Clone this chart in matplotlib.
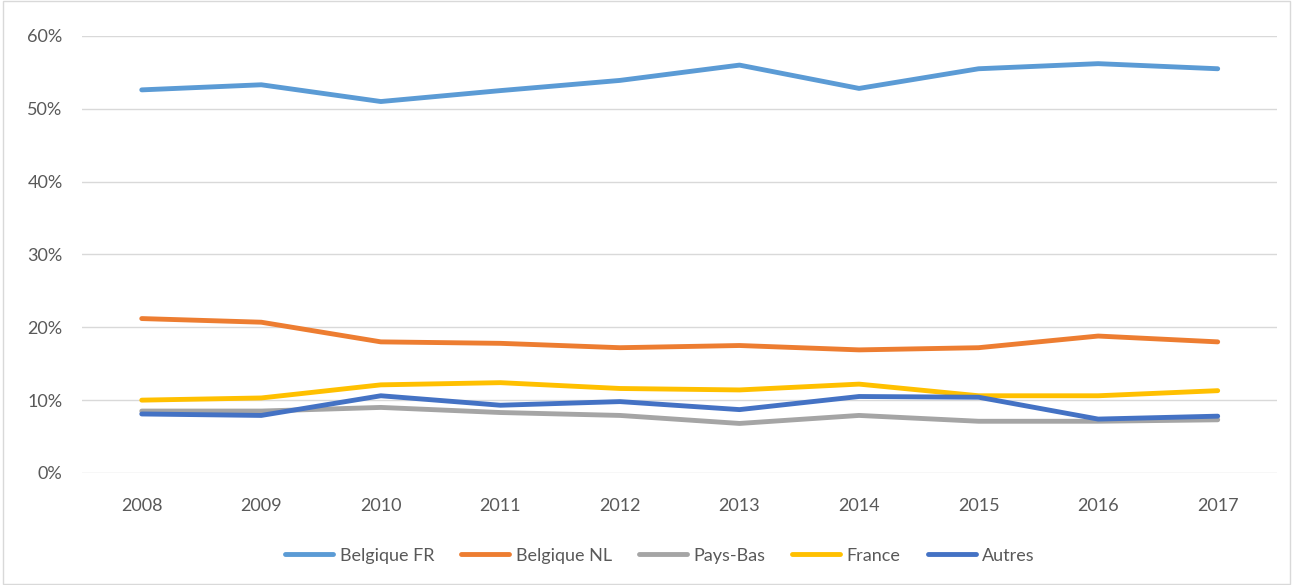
import matplotlib.pyplot as plt
from matplotlib.ticker import PercentFormatter
from matplotlib.patches import Rectangle

years = ['2008', '2009', '2010', '2011', '2012', '2013', '2014', '2015', '2016', '2017']

belgique_fr = [52.6, 53.3, 51.0, 52.5, 53.9, 56.0, 52.8, 55.5, 56.2, 55.5]
belgique_nl = [21.2, 20.7, 18.0, 17.8, 17.2, 17.5, 16.9, 17.2, 18.8, 18.0]
pays_bas = [8.5, 8.5, 9.0, 8.3, 7.9, 6.8, 7.9, 7.1, 7.1, 7.3]
france = [10.0, 10.3, 12.1, 12.4, 11.6, 11.4, 12.2, 10.6, 10.6, 11.3]
autres = [8.1, 7.9, 10.6, 9.3, 9.8, 8.7, 10.5, 10.4, 7.4, 7.8]

series = [
    ('Belgique FR', belgique_fr, '#5B9BD5'),
    ('Belgique NL', belgique_nl, '#ED7D31'),
    ('Pays-Bas', pays_bas, '#A5A5A5'),
    ('France', france, '#FFC000'),
    ('Autres', autres, '#4472C4'),
]

plt.rcParams['font.family'] = ['Lato', 'DejaVu Sans']

fig = plt.figure(figsize=(12.93, 5.85), dpi=100)
ax = fig.add_axes([0.0634, 0.1915, 0.9246, 0.747])

x = list(range(len(years)))
for name, vals, col in series:
    ax.plot(x, vals, color=col, linewidth=3.5, label=name, solid_capstyle='round')

ax.set_xlim(-0.5, len(years) - 0.5)
ax.set_ylim(0, 60)
ax.set_yticks(range(0, 61, 10))
ax.yaxis.set_major_formatter(PercentFormatter(decimals=0))
ax.set_xticks(x)
ax.set_xticklabels(years)
ax.grid(axis='y', color='#D9D9D9', linewidth=1)
ax.set_axisbelow(True)
for s in ax.spines.values():
    s.set_visible(False)
ax.tick_params(axis='both', length=0, labelsize=13, colors='#595959')
ax.tick_params(axis='x', pad=18)
ax.tick_params(axis='y', pad=14)

leg = fig.legend(loc='center', bbox_to_anchor=(0.5104, 0.05), ncol=5, frameon=False,
                 fontsize=13, handlelength=2.66, columnspacing=1.5, handletextpad=0.35)
for t in leg.get_texts():
    t.set_color('#595959')
for h in leg.get_lines():
    h.set_linewidth(3.5)

fig.patches.append(Rectangle((0.002, 0.002), 0.996, 0.996, transform=fig.transFigure,
                             fill=False, edgecolor='#D9D9D9', linewidth=1))

fig.savefig('out.png', dpi=100)
